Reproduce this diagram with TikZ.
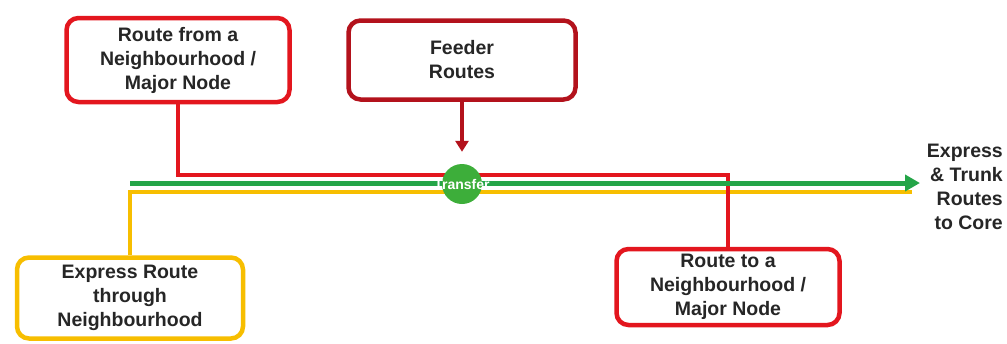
\documentclass[tikz,border=0pt]{standalone}
\usepackage{fontspec}
\setmainfont{Liberation Sans}
\usetikzlibrary{arrows.meta}
\definecolor{routered}{HTML}{E3161E}
\definecolor{feederred}{HTML}{B3121C}
\definecolor{expressyellow}{HTML}{F7BE00}
\definecolor{trunkgreen}{HTML}{24A548}
\definecolor{hubgreen}{HTML}{3DAE3A}
\definecolor{labelgray}{HTML}{262626}
\tikzset{
  routebox/.style={draw=#1, line width=4.5pt, rounded corners=12pt, fill=white,
    minimum width=223pt, align=center, text=labelgray,
    font=\bfseries\fontsize{19.5}{24}\selectfont, inner sep=0pt},
  routeline/.style={draw=#1, line width=4pt},
}
\begin{document}
\begin{tikzpicture}[x=1pt,y=-1pt]
\useasboundingbox (0,0) rectangle (1007,343);

% end points of the coloured route lines
\coordinate (yend) at (912,192);
\coordinate (gstart) at (130,183);
\coordinate (gend) at (920,183);

% boxes
\node[routebox=routered, minimum height=84pt] (from) at (178,60)
  {Route from a\\Neighbourhood /\\Major Node};
\node[routebox=feederred, minimum width=227pt, minimum height=79pt] (feeder) at (462,60)
  {Feeder\\Routes};
\node[routebox=expressyellow, minimum width=226pt, minimum height=81pt] (express) at (130,298)
  {Express Route\\through\\Neighbourhood};
\node[routebox=routered, minimum height=76pt] (to) at (728,287)
  {Route to a\\Neighbourhood /\\Major Node};

% express route running through the neighbourhood
\draw[routeline=expressyellow] (express.north) |- (yend);
% route serving the neighbourhood nodes
\draw[routeline=routered] (from.south) -- (from.south |- 0,175) -| (to.north);
% trunk route to the core
\draw[routeline=trunkgreen, line width=5pt, -{Triangle[length=15pt,width=16pt]}] (gstart) -- (gend);

% transfer hub
\node[circle, fill=hubgreen, minimum size=40pt, inner sep=0pt] (hub) at (462,184) {};
\node[text=white, font=\bfseries\fontsize{14}{14}\selectfont] (hublabel) at (hub) {Transfer};

% feeder arrow into the hub
\draw[draw=feederred, line width=4pt, -{Triangle[length=11pt,width=13pt]}, shorten >=12pt] (feeder.south) -- (hub.north);

% destination label
\node[anchor=north east, align=right, text=labelgray, font=\bfseries\fontsize{19.5}{24}\selectfont, inner sep=0pt] (core) at (1003,144)
  {Express\\\& Trunk\\Routes\\to Core};
\end{tikzpicture}
\end{document}
